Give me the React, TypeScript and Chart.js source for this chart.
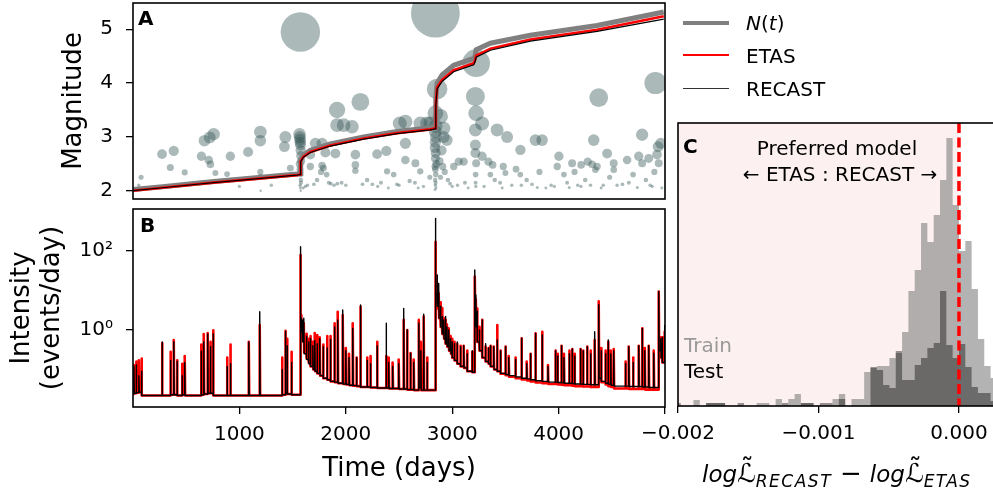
import React, { useEffect, useRef } from "react";
import { Chart, registerables } from "chart.js";
Chart.register(...registerables);

const FONT = '"DejaVu Sans", sans-serif';

// ---------- Panel A: catalogue events (time in days, magnitude) ----------
const eventTimes = [
  1573, 2842, 3225, 2858, 4910, 4377, 3218, 2137, 1918, 3225, 3281, 2842, 2889, 2764,
  54, 76, 273, 351, 383, 486, 643, 671, 712, 721, 727, 758, 774, 884, 915, 1082, 1197, 1197, 1197, 1197, 1200, 1423, 1432, 1479, 500, 1000, 1300,
  1565, 1568, 1570, 1572, 1574, 1576, 1578, 1580, 1566, 1569, 1573, 1575, 1577, 1579, 1571, 1574, 1576,
  1600, 1620, 1640, 1667, 1667, 1700, 1714, 1730, 1777, 1777, 1790, 1808, 1767, 1820, 1840, 1860, 1890, 1902, 1918, 1920, 1980, 1960,
  2059, 2090, 2090, 2090, 2294, 2381, 2388, 2507, 2560, 2560, 2702, 2795, 2157, 2200, 2250, 2330, 2400, 2450, 2480, 2560, 2654, 2700, 2600, 2650, 2730, 2790, 2000, 2300, 2500, 2680,
  2845, 2840, 2848, 2842, 2838, 2845, 2842, 2850, 2840, 2842, 2846, 2840, 2844, 2842, 2848, 2838,
  2920, 2920, 2950, 2900, 2880, 2910, 2930, 2890, 2960, 2980, 3014, 3061, 3108, 3050, 3120, 3150, 3000,
  3218, 3218, 3218, 3225, 3220, 3220, 3222,
  3281, 3340, 3380, 3359, 3400, 3422, 3516, 3480, 3500, 3450, 3560, 3641, 3600, 3640, 3700, 3782, 3845, 3750, 3820, 3880, 3930, 3300, 3470, 3650, 3800, 3960,
  4003, 3987, 4050, 4127, 4212, 4274, 4315, 4362, 4346, 4330, 4080, 4150, 4180, 4250, 4300, 4400, 4456, 4518, 4518, 4480, 4550, 4600, 4100, 4210, 4420,
  4644, 4753, 4785, 4785, 4847, 4941, 4935, 4925, 4960, 4700, 4820, 4880, 4660, 4900, 4740, 4860, 4970,
];
const eventMags = [
  4.95, 5.3, 4.37, 3.89, 4.0, 3.73, 3.75, 3.65, 3.5, 3.44, 3.25, 3.44, 3.38, 3.25,
  2.1, 2.25, 2.68, 2.43, 2.74, 2.34, 2.64, 2.93, 2.57, 2.99, 2.49, 3.05, 2.33, 2.31, 2.64, 2.72, 3.09, 2.93, 2.35, 2.26, 2.0, 2.82, 3.0, 2.42, 2.12, 2.08, 2.1,
  3.05, 3.0, 2.95, 2.9, 2.85, 2.75, 2.65, 2.55, 2.5, 2.4, 2.35, 2.3, 2.2, 2.15, 2.1, 2.05, 2.0,
  2.05, 2.08, 2.1, 2.67, 2.45, 2.12, 2.88, 2.2, 2.88, 2.47, 2.42, 2.71, 2.35, 2.3, 2.15, 2.13, 2.1, 2.69, 3.22, 2.13, 3.22, 2.15,
  3.19, 2.67, 2.48, 2.37, 2.68, 2.74, 2.36, 3.25, 3.28, 2.88, 3.25, 3.25, 2.12, 2.2, 2.12, 2.15, 2.05, 2.3, 2.12, 2.57, 2.51, 2.36, 2.18, 2.15, 2.08, 2.25, 2.1, 2.08, 2.1, 2.05,
  3.2, 3.1, 3.0, 2.9, 2.8, 2.7, 2.6, 2.5, 2.45, 2.4, 2.3, 2.2, 2.15, 2.1, 2.05, 2.02,
  3.16, 3.0, 2.94, 2.75, 2.55, 2.45, 2.35, 2.25, 2.2, 2.13, 2.45, 2.54, 2.54, 2.1, 2.15, 2.05, 2.08,
  3.13, 2.85, 2.7, 2.51, 2.3, 2.15, 2.08,
  2.64, 2.54, 2.48, 2.3, 2.2, 3.13, 3.0, 2.45, 2.33, 2.15, 2.1, 2.76, 2.4, 2.3, 2.2, 2.94, 2.94, 2.12, 2.35, 2.05, 2.1, 2.08, 2.05, 2.1, 2.06, 2.08,
  2.64, 2.45, 2.3, 2.51, 2.48, 2.54, 2.49, 2.45, 2.39, 2.94, 2.15, 2.35, 2.1, 2.2, 2.1, 2.05, 2.69, 2.51, 2.39, 2.25, 2.1, 2.12, 2.06, 2.08, 2.1,
  2.57, 2.64, 3.04, 2.51, 2.6, 2.51, 2.82, 2.67, 2.88, 2.3, 2.2, 2.08, 2.15, 2.35, 2.06, 2.1, 2.05,
];

// cumulative curves (plotted on the magnitude axis)
const cumTimes = [0, 300, 758, 1100, 1542, 1570, 1576, 1600, 1667, 1855, 2168, 2482, 2795, 2840, 2846, 2858, 2905, 3014, 3202, 3214, 3225, 3359, 3735, 4362, 4988];
const cumObserved = [2.02, 2.08, 2.17, 2.23, 2.31, 2.32, 2.58, 2.66, 2.75, 2.87, 3.0, 3.1, 3.17, 3.19, 3.7, 4.0, 4.15, 4.33, 4.46, 4.5, 4.62, 4.74, 4.89, 5.07, 5.32];
const cumEtas = [2.0, 2.06, 2.15, 2.21, 2.29, 2.3, 2.55, 2.63, 2.72, 2.84, 2.97, 3.07, 3.14, 3.16, 3.6, 3.92, 4.06, 4.24, 4.37, 4.42, 4.51, 4.64, 4.81, 4.99, 5.24];
const cumRecast = [2.0, 2.06, 2.15, 2.21, 2.29, 2.3, 2.54, 2.62, 2.71, 2.83, 2.96, 3.06, 3.13, 3.15, 3.58, 3.89, 4.03, 4.21, 4.34, 4.39, 4.48, 4.61, 4.78, 4.96, 5.19];

// ---------- Panel B: intensity spikes ----------
const spikeTimes = [8, 30, 55, 80, 273, 352, 383, 414, 461, 486, 640, 665, 702, 727, 753, 884, 915, 1088, 1191, 1401, 1432, 1448, 1489,
  1573, 1580, 1592, 1605, 1630, 1650, 1667, 1690, 1708, 1730, 1755, 1787, 1824, 1855, 1893, 1924, 1971, 2000, 2030, 2065, 2100, 2137,
  2200, 2231, 2294, 2379, 2403, 2440, 2497, 2544, 2576, 2607, 2638, 2686, 2705, 2732, 2764,
  2842, 2858, 2873, 2890, 2905, 2920, 2936, 2950, 2967, 2985, 2999, 3020, 3046, 3077, 3108, 3140, 3187,
  3212, 3222, 3234, 3255, 3281, 3312, 3340, 3359, 3390, 3422, 3453, 3500, 3531, 3594, 3651, 3700, 3735, 3782, 3845, 3900, 3970, 3990,
  4026, 4050, 4100, 4127, 4150, 4205, 4230, 4268, 4300, 4339, 4377, 4400, 4440, 4465, 4490, 4518, 4628, 4659, 4700, 4753, 4785, 4810,
  4847, 4894, 4941, 4960, 4973, 4995];
const baseRecast = [0.024, 0.025, 0.026, 0.027, 0.022, 0.022, 0.023, 0.023, 0.022, 0.023, 0.022, 0.023, 0.024, 0.025, 0.025, 0.022, 0.022, 0.022, 0.022, 0.022, 0.023, 0.025, 0.024,
  0.023, 1.6, 0.9, 0.5, 0.25, 0.18, 0.14, 0.12, 0.1, 0.09, 0.08, 0.07, 0.06, 0.055, 0.05, 0.048, 0.045, 0.043, 0.042, 0.04, 0.039, 0.038,
  0.036, 0.036, 0.035, 0.034, 0.034, 0.033, 0.033, 0.032, 0.032, 0.031, 0.031, 0.03, 0.035, 0.03, 0.03,
  0.03, 8, 4, 2.0, 1.2, 0.8, 0.6, 0.45, 0.38, 0.3, 0.25, 0.2, 0.17, 0.14, 0.12, 0.11, 0.09,
  0.085, 3, 1.2, 0.5, 0.3, 0.2, 0.16, 0.14, 0.12, 0.1, 0.09, 0.08, 0.075, 0.07, 0.065, 0.06, 0.058, 0.055, 0.052, 0.05, 0.048, 0.048,
  0.047, 0.046, 0.045, 0.045, 0.044, 0.043, 0.043, 0.042, 0.042, 0.041, 0.041, 0.06, 0.05, 0.045, 0.043, 0.04, 0.038, 0.038, 0.037, 0.037, 0.037, 0.036,
  0.036, 0.035, 0.035, 0.3, 0.2, 0.15];
const baseEtas = [0.024, 0.025, 0.026, 0.027, 0.022, 0.022, 0.023, 0.023, 0.022, 0.023, 0.022, 0.023, 0.024, 0.025, 0.025, 0.022, 0.022, 0.022, 0.022, 0.022, 0.023, 0.025, 0.024,
  0.023, 1.8, 1.0, 0.55, 0.27, 0.19, 0.15, 0.12, 0.1, 0.09, 0.08, 0.07, 0.06, 0.055, 0.05, 0.048, 0.045, 0.043, 0.042, 0.04, 0.039, 0.038,
  0.036, 0.036, 0.035, 0.034, 0.034, 0.033, 0.033, 0.032, 0.032, 0.031, 0.031, 0.03, 0.035, 0.03, 0.03,
  0.03, 6, 3.5, 2.0, 1.2, 0.8, 0.6, 0.45, 0.38, 0.3, 0.25, 0.2, 0.17, 0.14, 0.12, 0.11, 0.09,
  0.085, 2.5, 1.1, 0.5, 0.3, 0.2, 0.16, 0.14, 0.12, 0.1, 0.09, 0.078, 0.072, 0.066, 0.06, 0.056, 0.053, 0.05, 0.047, 0.045, 0.043, 0.043,
  0.042, 0.041, 0.04, 0.04, 0.039, 0.038, 0.038, 0.037, 0.037, 0.036, 0.036, 0.06, 0.048, 0.042, 0.038, 0.036, 0.033, 0.033, 0.032, 0.032, 0.032, 0.032,
  0.031, 0.031, 0.031, 0.3, 0.2, 0.15];
const peakRecast = [0.12, 0.13, 0.07, 0.09, 0.5, 0.17, 0.5, 0.16, 0.07, 0.15, 0.29, 0.5, 0.8, 0.38, 0.8, 0.12, 0.14, 0.5, 2.9, 0.1, 0.93, 0.4, 0.15,
  128, 2.0, 1.8, 2.0, 0.7, 0.5, 0.6, 0.4, 0.54, 0.45, 0.6, 0.38, 0.35, 0.58, 1.2, 1.8, 3.2, 0.3, 0.2, 1.1, 0.2, 4.3,
  0.17, 0.14, 0.4, 1.48, 0.15, 0.12, 0.14, 3.5, 1.0, 0.26, 0.15, 1.5, 0.3, 2.5, 0.15,
  670, 24.6, 15, 4, 2.2, 1.8, 2.2, 1.2, 1.0, 0.6, 0.5, 0.45, 0.5, 0.38, 0.4, 0.25, 0.3,
  33, 7.7, 3.0, 1.0, 1.8, 0.45, 0.35, 0.4, 0.38, 0.56, 0.3, 0.38, 0.2, 0.18, 0.62, 0.14, 0.25, 0.82, 0.75, 0.12, 0.3, 0.22,
  0.4, 0.2, 0.25, 0.33, 0.22, 0.33, 0.3, 0.38, 0.25, 0.9, 4.4, 0.3, 0.25, 0.56, 0.25, 0.3, 0.14, 0.38, 0.15, 0.4, 1.1, 0.3,
  0.4, 0.26, 9.4, 0.6, 0.65, 1.3];
const peakEtas = [0.13, 0.16, 0.17, 0.19, 0.47, 0.28, 0.56, 0.17, 0.14, 0.22, 0.43, 0.79, 0.84, 0.5, 0.98, 0.2, 0.43, 0.5, 1.34, 0.2, 0.95, 0.6, 0.28,
  79, 2.4, 1.6, 1.5, 0.8, 0.6, 0.7, 0.5, 0.84, 0.75, 0.65, 0.43, 0.7, 0.7, 1.48, 2.9, 2.4, 0.35, 0.25, 1.48, 0.2, 3.9,
  0.2, 0.22, 0.5, 0.22, 0.2, 0.15, 0.18, 1.8, 1.0, 0.26, 0.18, 1.8, 0.5, 2.2, 0.2,
  172, 15, 8.5, 5, 3.6, 2, 1.8, 1.4, 1.1, 0.7, 0.6, 0.5, 0.45, 0.4, 0.4, 0.3, 0.28,
  22.4, 6, 3.5, 1.2, 1.8, 0.38, 0.35, 0.4, 0.38, 1.34, 0.3, 0.38, 0.22, 0.2, 0.62, 0.16, 0.25, 0.82, 0.9, 0.13, 0.3, 0.25,
  0.4, 0.25, 0.3, 0.33, 0.25, 0.33, 0.3, 0.38, 0.3, 0.56, 5.3, 0.35, 0.3, 0.5, 0.3, 0.33, 0.16, 0.38, 0.2, 0.4, 1.1, 0.35,
  0.4, 0.3, 9.4, 0.65, 0.65, 0.9];

// ---------- Panel C: histograms of log-likelihood differences ----------
const histStart = -0.002025;
const histBinWidth = 0.000045;
const trainCounts = [0, 0, 0, 6, 0, 3, 3, 3, 0, 0, 0, 0, 0, 3, 3, 0, 7, 0, 7, 12, 3, 3, 0, 0, 0, 7, 12, 0, 7, 7,
  34, 38, 40, 40, 48, 53, 74, 115, 136, 183, 164, 191, 226, 268, 201, 155, 165, 117, 67, 40, 28];
const testCounts = [3, 0, 0, 0, 0, 3, 3, 3, 0, 0, 3, 0, 0, 0, 0, 0, 0, 3, 0, 0, 3, 3, 0, 3, 3, 0, 7, 0, 0, 0,
  0, 39, 36, 21, 18, 55, 26, 26, 41, 48, 58, 63, 115, 61, 48, 62, 39, 19, 13, 13, 5];

const xTicksTime = [1000, 2000, 3000, 4000, 5000];
const yTicksMag = [2, 3, 4, 5];
const yTicksIntensity = [1, 100];
const xTicksC = [-0.002, -0.001, 0];

// ---------- helpers ----------
const SPIKE_W = 4;
function spikeSeries(base: number[], peak: number[]) {
  const pts: { x: number; y: number }[] = [{ x: 0, y: base[0] }];
  for (let i = 0; i < spikeTimes.length; i++) {
    const t = spikeTimes[i];
    const next = i + 1 < spikeTimes.length ? base[i + 1] : base[i];
    pts.push({ x: t, y: base[i] }, { x: t, y: peak[i] }, { x: t + SPIKE_W, y: next });
  }
  return pts;
}
function stepSeries(counts: number[]) {
  const pts = counts.map((c, i) => ({ x: histStart + i * histBinWidth, y: c }));
  pts.push({ x: histStart + counts.length * histBinWidth, y: counts[counts.length - 1] });
  return pts;
}
function markerRadius(m: number) {
  if (m >= 2.7) return 6 * Math.exp(0.61 * (m - 3));
  return 1.2 + (m - 2) * (3.8 / 0.7);
}
const fixY = (w: number) => (s: any) => {
  s.width = w;
  s.paddingTop = 0;
  s.paddingBottom = 0;
};
const fixX = (h: number) => (s: any) => {
  s.height = h;
  s.paddingLeft = 0;
  s.paddingRight = 0;
};

const framePlugin = {
  id: "frame",
  afterDraw(chart: any) {
    const { ctx, chartArea: a } = chart;
    ctx.save();
    ctx.strokeStyle = "#000";
    ctx.lineWidth = 1.6;
    ctx.strokeRect(a.left, a.top, a.right - a.left, a.bottom - a.top);
    ctx.restore();
  },
};

const cDecorPlugin = {
  id: "cdecor",
  beforeDatasetsDraw(chart: any) {
    const { ctx, chartArea: a, scales } = chart;
    const x0 = scales.x.getPixelForValue(0);
    ctx.save();
    ctx.fillStyle = "rgb(253,240,240)";
    ctx.fillRect(a.left, a.top, x0 - a.left, a.bottom - a.top);
    ctx.restore();
  },
  afterDatasetsDraw(chart: any) {
    const { ctx, chartArea: a, scales } = chart;
    const x0 = scales.x.getPixelForValue(0);
    ctx.save();
    ctx.strokeStyle = "#ff0000";
    ctx.lineWidth = 3.5;
    ctx.setLineDash([10, 4.5]);
    ctx.beginPath();
    ctx.moveTo(x0, a.top);
    ctx.lineTo(x0, a.bottom);
    ctx.stroke();
    ctx.restore();
  },
};

const tickFont = { size: 20, family: FONT };
const titleFont = { size: 26, family: FONT };
const tickGrid = { drawOnChartArea: false, drawTicks: true, tickLength: 7, color: "#000", lineWidth: 1.3 };

export default function App() {
  const aRef = useRef<HTMLCanvasElement>(null);
  const bRef = useRef<HTMLCanvasElement>(null);
  const cRef = useRef<HTMLCanvasElement>(null);

  useEffect(() => {
    Chart.defaults.font.family = FONT;
    Chart.defaults.color = "#000";
    const charts: Chart[] = [];
    const curve = (ys: number[]) => cumTimes.map((t, i) => ({ x: t, y: ys[i] }));

    charts.push(
      new Chart(aRef.current as HTMLCanvasElement, {
        type: "scatter",
        data: {
          datasets: [
            { type: "line", label: "RECAST", data: curve(cumRecast), borderColor: "#000", borderWidth: 1.2, pointRadius: 0, order: 0 },
            { type: "line", label: "ETAS", data: curve(cumEtas), borderColor: "#ff0000", borderWidth: 2.6, pointRadius: 0, order: 1 },
            { type: "line", label: "N(t)", data: curve(cumObserved), borderColor: "#808080", borderWidth: 5, pointRadius: 0, order: 2 },
            {
              type: "scatter",
              label: "events",
              data: eventTimes.map((t, i) => ({ x: t, y: eventMags[i] })),
              pointRadius: (ctx: any) => markerRadius(ctx.raw ? ctx.raw.y : 2),
              pointBackgroundColor: "rgba(47,79,79,0.4)",
              pointBorderWidth: 0,
              pointBorderColor: "rgba(0,0,0,0)",
              order: 3,
            } as any,
          ],
        },
        options: {
          responsive: false,
          animation: false,
          events: [],
          layout: { autoPadding: false, padding: { top: 3, right: 15, bottom: 2, left: 0 } },
          plugins: { legend: { display: false }, tooltip: { enabled: false } },
          scales: {
            x: { type: "linear", min: 0, max: 5000, display: false },
            y: {
              type: "linear",
              min: 1.846,
              max: 5.488,
              afterFit: fixY(133),
              afterBuildTicks: (s: any) => { s.ticks = yTicksMag.map((v) => ({ value: v })); },
              ticks: { font: tickFont, color: "#000", padding: 13, callback: (v: any) => String(v) },
              grid: tickGrid,
              border: { display: false },
              title: { display: true, text: "Magnitude", font: titleFont, color: "#000", padding: { top: 59, bottom: 0 } },
            },
          },
        } as any,
        plugins: [framePlugin],
      })
    );

    charts.push(
      new Chart(bRef.current as HTMLCanvasElement, {
        type: "line",
        data: {
          datasets: [
            { label: "RECAST", data: spikeSeries(baseRecast, peakRecast), borderColor: "#000", borderWidth: 1.4, borderJoinStyle: "round", pointRadius: 0, order: 0 },
            { label: "ETAS", data: spikeSeries(baseEtas, peakEtas), borderColor: "#ff0000", borderWidth: 2.6, borderJoinStyle: "round", pointRadius: 0, order: 1 },
          ],
        },
        options: {
          responsive: false,
          animation: false,
          events: [],
          layout: { autoPadding: false, padding: { top: 4, right: 15, bottom: 0, left: 0 } },
          plugins: { legend: { display: false }, tooltip: { enabled: false } },
          scales: {
            x: {
              type: "linear",
              min: 0,
              max: 5000,
              afterFit: fixX(90),
              afterBuildTicks: (s: any) => { s.ticks = xTicksTime.map((v) => ({ value: v })); },
              ticks: { font: tickFont, color: "#000", padding: 9, autoSkip: false, maxRotation: 0, callback: (v: any) => (v === 5000 ? "" : String(v)) },
              grid: tickGrid,
              border: { display: false },
              title: { display: true, text: "Time (days)", font: titleFont, color: "#000", padding: { top: 0, bottom: 12 } },
            },
            y: {
              type: "logarithmic",
              min: 0.01125,
              max: 1156,
              afterFit: fixY(133),
              afterBuildTicks: (s: any) => { s.ticks = yTicksIntensity.map((v) => ({ value: v })); },
              ticks: { font: tickFont, color: "#000", padding: 13, callback: (v: any) => (v === 1 ? "10\u2070" : "10\u00b2") },
              grid: tickGrid,
              border: { display: false },
              title: { display: true, text: ["Intensity", "(events/day)"], font: { ...titleFont, lineHeight: 1.15 }, color: "#000", padding: { top: 7, bottom: 0 } },
            },
          },
        } as any,
        plugins: [framePlugin],
      })
    );

    charts.push(
      new Chart(cRef.current as HTMLCanvasElement, {
        type: "line",
        data: {
          datasets: [
            { label: "Test", data: stepSeries(testCounts), stepped: "before", fill: "origin", backgroundColor: "rgba(0,0,0,0.4)", borderColor: "rgba(0,0,0,0)", borderWidth: 0, pointRadius: 0, order: 0 },
            { label: "Train", data: stepSeries(trainCounts), stepped: "before", fill: "origin", backgroundColor: "rgba(128,128,128,0.6)", borderColor: "rgba(0,0,0,0)", borderWidth: 0, pointRadius: 0, order: 1 },
          ],
        },
        options: {
          responsive: false,
          animation: false,
          events: [],
          layout: { autoPadding: false, padding: { top: 5, right: 10, bottom: 0, left: 48 } },
          plugins: { legend: { display: false }, tooltip: { enabled: false } },
          scales: {
            x: {
              type: "linear",
              min: -0.002,
              max: 0.000292,
              afterFit: fixX(91),
              afterBuildTicks: (s: any) => { s.ticks = xTicksC.map((v) => ({ value: v })); },
              ticks: { font: tickFont, color: "#000", padding: 9, autoSkip: false, maxRotation: 0, callback: (v: any) => (v < 0 ? "\u2212" : "") + Math.abs(v).toFixed(3) },
              grid: tickGrid,
              border: { display: false },
            },
            y: { type: "linear", min: 0, max: 283, display: false },
          },
        } as any,
        plugins: [cDecorPlugin, framePlugin],
      })
    );

    return () => charts.forEach((c) => c.destroy());
  }, []);

  const txt = (extra: React.CSSProperties): React.CSSProperties => ({
    position: "absolute",
    fontFamily: FONT,
    fontSize: 20,
    lineHeight: "24px",
    whiteSpace: "nowrap",
    color: "#000",
    ...extra,
  });

  const sub: React.CSSProperties = { fontStyle: "italic", fontSize: 17, letterSpacing: 1.5, position: "relative", top: 5 };
  const logStyle: React.CSSProperties = { fontStyle: "italic", fontSize: 23 };

  return (
    <div style={{ position: "fixed", left: 0, top: 0, width: 993, height: 497, overflow: "hidden", background: "#fff" }}>
      <canvas ref={aRef} width={680} height={201} style={{ position: "absolute", left: 0, top: 0 }} />
      <canvas ref={bRef} width={680} height={292} style={{ position: "absolute", left: 0, top: 205 }} />
      <canvas ref={cRef} width={380} height={379} style={{ position: "absolute", left: 630, top: 118 }} />

      <div style={txt({ left: 138, top: 6, fontWeight: "bold" })}>A</div>
      <div style={txt({ left: 140, top: 213, fontWeight: "bold" })}>B</div>
      <div style={txt({ left: 683, top: 134, fontWeight: "bold" })}>C</div>

      {/* legend */}
      <div style={{ position: "absolute", left: 683, top: 20.7, width: 46, height: 4, background: "#808080" }} />
      <div style={{ position: "absolute", left: 683, top: 54, width: 46, height: 2, background: "#ff0000" }} />
      <div style={{ position: "absolute", left: 683, top: 88, width: 46, height: 1, background: "#333" }} />
      <div style={txt({ left: 746, top: 10.6 })}>
        <span style={{ fontStyle: "italic" }}>N</span>(<span style={{ fontStyle: "italic" }}>t</span>)
      </div>
      <div style={txt({ left: 746, top: 44 })}>ETAS</div>
      <div style={txt({ left: 746, top: 77 })}>RECAST</div>

      {/* panel C annotations */}
      <div style={txt({ left: 737, top: 136, width: 200, textAlign: "center" })}>Preferred model</div>
      <div style={txt({ left: 740, top: 162, width: 200, textAlign: "center" })}>{"\u2190 ETAS : RECAST \u2192"}</div>
      <div style={txt({ left: 684, top: 333, color: "#999" })}>Train</div>
      <div style={txt({ left: 684, top: 359 })}>Test</div>

      <div style={txt({ left: 702, top: 458, fontSize: 26, lineHeight: "30px" })}>
        <span style={logStyle}>log</span>
        <span>{"\u2112\u0303"}</span>
        <span style={sub}>RECAST</span>
        <span style={{ margin: "0 8px" }}>{"\u2212"}</span>
        <span style={logStyle}>log</span>
        <span>{"\u2112\u0303"}</span>
        <span style={sub}>ETAS</span>
      </div>
    </div>
  );
}
